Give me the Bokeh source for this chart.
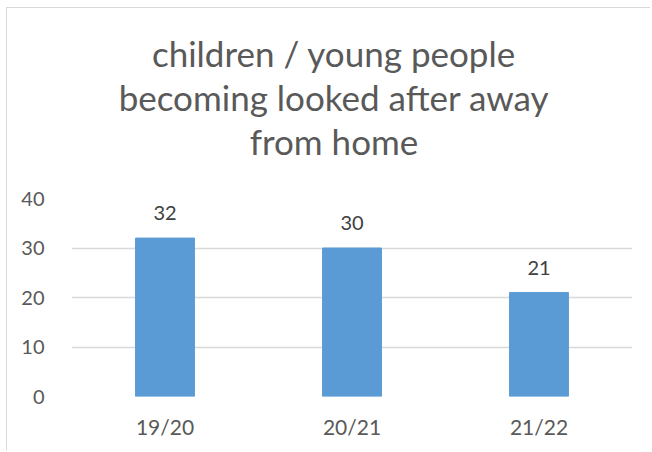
from bokeh.plotting import figure
from bokeh.models import ColumnDataSource, FixedTicker, LabelSet, Title
from bokeh.core.properties import value
from bokeh.embed import file_html
from bokeh.resources import INLINE

categories = ["19/20", "20/21", "21/22"]
values = [32, 30, 21]
y_ticks = [0, 10, 20, 30, 40]
title_lines = ["children / young people", "becoming looked after away", "from home"]

FONT = "Lato"
src = ColumnDataSource(dict(cat=categories, val=values, lab=[str(v) for v in values]))

p = figure(x_range=categories, y_range=(0, 40), width=644, height=443,
           output_backend="svg", toolbar_location=None,
           min_border_left=64, min_border_right=19, min_border_top=190, min_border_bottom=55)
p.x_range.range_padding = 0

p.vbar(x="cat", top="val", width=0.315, source=src, fill_color="#5b9bd5", line_color="#5b9bd5")

labels = LabelSet(x="cat", y="val", text="lab", source=src, text_align="center",
                  text_baseline="bottom", y_offset=18, text_font_size="20px",
                  text_color="#404040", text_font=value(FONT))
p.add_layout(labels)

# title: spacer nearest the frame, then the lines stacked upwards
p.title = None
p.add_layout(Title(text=" ", text_font_size="1px", standoff=34), "above")
for line in reversed(title_lines):
    p.add_layout(Title(text=line, align="center", text_font=FONT,
                       text_font_size="35px", text_font_style="normal",
                       text_color="#595959", standoff=0,
                       padding=dict(left=0, right=36, top=0, bottom=0)), "above")

p.yaxis.ticker = FixedTicker(ticks=y_ticks)
p.yaxis.axis_line_color = None
p.yaxis.major_tick_line_color = None
p.yaxis.minor_tick_line_color = None
p.yaxis.major_label_standoff = 21
p.yaxis.major_label_text_font = FONT
p.yaxis.major_label_text_font_size = "20px"
p.yaxis.major_label_text_color = "#595959"

p.xaxis.axis_line_color = None
p.xaxis.major_tick_line_color = None
p.xaxis.major_label_standoff = 11
p.xaxis.major_label_text_font = FONT
p.xaxis.major_label_text_font_size = "21px"
p.xaxis.major_label_text_color = "#595959"

p.xgrid.grid_line_color = None
p.ygrid.grid_line_color = "#d9d9d9"
p.ygrid.grid_line_width = 1.5
p.ygrid.ticker = FixedTicker(ticks=y_ticks)
p.outline_line_color = None
p.background_fill_color = "white"
p.border_fill_color = "white"
p.styles = {"margin-left": "6px", "margin-top": "7px",
            "border-left": "1px solid #d9d9d9", "border-top": "1px solid #d9d9d9"}

open("out.html", "w").write(file_html(p, INLINE))
